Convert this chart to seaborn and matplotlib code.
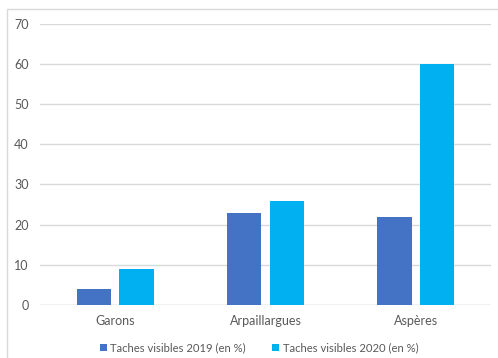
import matplotlib
matplotlib.use("Agg")
import matplotlib.pyplot as plt
from matplotlib.patches import Rectangle, Patch
import seaborn as sns
import pandas as pd

# Share of visible spots per site
sites = ["Garons", "Arpaillargues", "Aspères"]
series = ["Taches visibles 2019 (en %)", "Taches visibles 2020 (en %)"]
values_2019 = [4, 23, 22]
values_2020 = [9, 26, 60]
colors = ["#4472C4", "#00B0F0"]
yticks = [0, 10, 20, 30, 40, 50, 60, 70]

df = pd.DataFrame({
    "site": sites * 2,
    "serie": [series[0]] * 3 + [series[1]] * 3,
    "valeur": values_2019 + values_2020,
})

sns.set_theme(style="white")
plt.rcParams["font.family"] = ["Lato", "DejaVu Sans"]

W, H = 498, 358
fig = plt.figure(figsize=(W / 100, H / 100), dpi=100)
ax = fig.add_axes([40 / W, 1 - 305 / H, (491 - 40) / W, (305 - 23.7) / H])

sns.barplot(data=df, x="site", y="valeur", hue="serie", order=sites,
            hue_order=series, palette=colors, width=0.57, gap=0.2,
            saturation=1, legend=False, ax=ax, linewidth=0)

ax.set_xlim(-0.5, 2.5)
ax.set_ylim(0, 70)
ax.set_yticks(yticks)
ax.set_xlabel("")
ax.set_ylabel("")
ax.yaxis.grid(True, color="#D9D9D9", linewidth=1)
ax.set_axisbelow(True)
for s in ax.spines.values():
    s.set_visible(False)
ax.axhline(0, color="#D9D9D9", linewidth=1, zorder=0.5)
ax.tick_params(axis="both", length=0, labelsize=9, labelcolor="#595959")
ax.tick_params(axis="y", pad=8)
ax.tick_params(axis="x", pad=7)

handles = [Patch(facecolor=c, edgecolor="none") for c in colors]
fig.legend(handles, series, loc="center", bbox_to_anchor=(259 / W, 1 - 348 / H),
           ncol=2, frameon=False, fontsize=8.1, handlelength=0.6,
           handleheight=0.6, handletextpad=0.35, columnspacing=2.3,
           labelcolor="#595959")

# Outer chart frame
fig.patches.append(Rectangle((6.5 / W, -0.1), 1.2, 1 - 8.5 / H + 0.1,
                             transform=fig.transFigure, fill=False,
                             edgecolor="#D9D9D9", linewidth=1))

fig.savefig("out.png", dpi=100)
